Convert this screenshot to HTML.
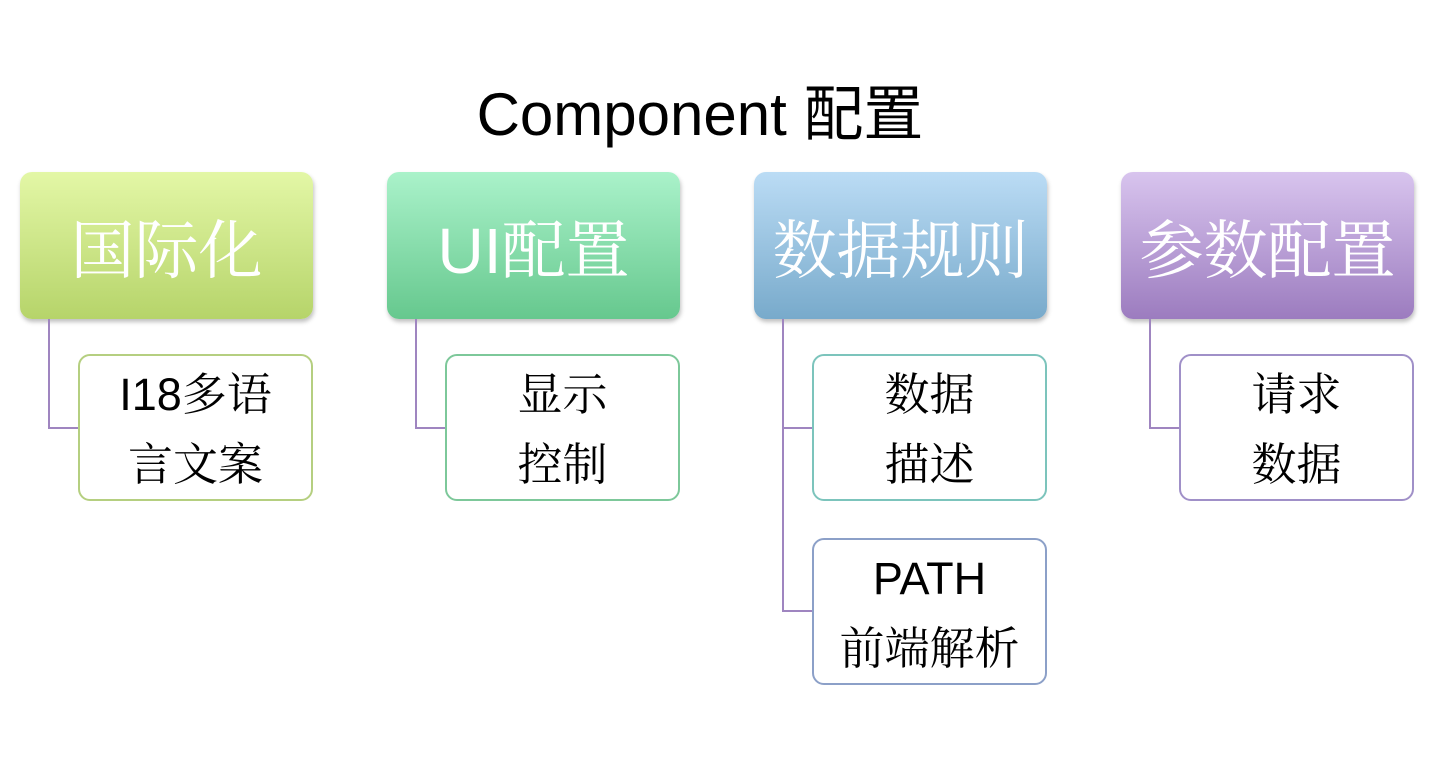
<!DOCTYPE html>
<html><head><meta charset="utf-8"><style>
body{margin:0;width:1434px;height:760px;background:#fff;position:relative;overflow:hidden}
.t{position:absolute;left:0;width:1400px;top:76px;text-align:center;font:60px "Liberation Sans","Noto Sans CJK SC",sans-serif;color:#000;line-height:78px}
.h{position:absolute;width:293px;height:147px;border-radius:12px;box-shadow:1px 3px 4px rgba(0,0,0,.25);color:#fff;font:64px "Liberation Sans","Noto Serif CJK SC",serif;display:flex;align-items:center;justify-content:center;top:172px}
.c{position:absolute;width:235px;height:147px;border:2px solid;border-radius:12px;background:#fff;color:#000;font:45px/70px "Liberation Sans","Noto Serif CJK SC",serif;text-align:center;box-sizing:border-box;padding-top:4px}
.c div{height:70px}
.l{position:absolute;background:#9f85c0}
</style></head><body>
<div class="t">Component 配置</div>

<div class="h" style="left:20px;background:linear-gradient(#e3f7a6,#b6d46a)">国际化</div>
<div class="h" style="left:387px;background:linear-gradient(#aaf2ca,#66c88e)">UI配置</div>
<div class="h" style="left:754px;background:linear-gradient(#bbdcf5,#78aacb)">数据规则</div>
<div class="h" style="left:1121px;background:linear-gradient(#d8c4ee,#9c7cbf)">参数配置</div>

<div class="l" style="left:48px;top:319px;width:2px;height:110px"></div>
<div class="l" style="left:48px;top:427px;width:32px;height:2px"></div>
<div class="l" style="left:415px;top:319px;width:2px;height:110px"></div>
<div class="l" style="left:415px;top:427px;width:32px;height:2px"></div>
<div class="l" style="left:782px;top:319px;width:2px;height:293px"></div>
<div class="l" style="left:782px;top:427px;width:32px;height:2px"></div>
<div class="l" style="left:782px;top:610px;width:32px;height:2px"></div>
<div class="l" style="left:1149px;top:319px;width:2px;height:110px"></div>
<div class="l" style="left:1149px;top:427px;width:32px;height:2px"></div>

<div class="c" style="left:78px;top:354px;border-color:#b5cf80"><div>I18多语</div><div>言文案</div></div>
<div class="c" style="left:445px;top:354px;border-color:#7dc89a"><div>显示</div><div>控制</div></div>
<div class="c" style="left:812px;top:354px;border-color:#7cc4bc"><div>数据</div><div>描述</div></div>
<div class="c" style="left:812px;top:538px;border-color:#8ca0c8"><div>PATH</div><div>前端解析</div></div>
<div class="c" style="left:1179px;top:354px;border-color:#a090c8"><div>请求</div><div>数据</div></div>
</body></html>
